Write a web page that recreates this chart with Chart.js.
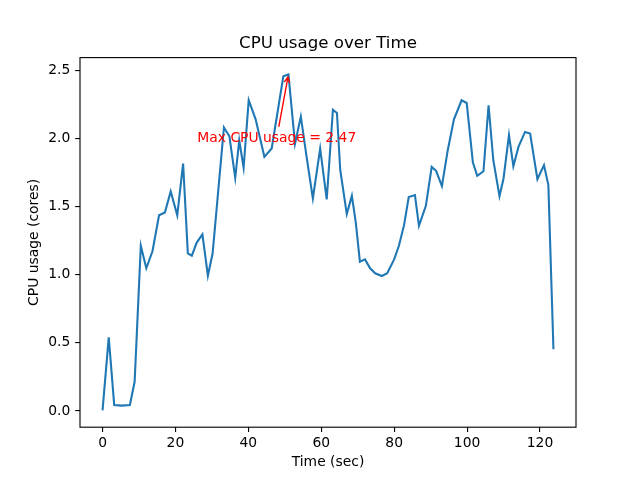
<!DOCTYPE html>
<html>
<head>
<meta charset="utf-8">
<title>CPU usage over Time</title>
<script src="https://cdn.jsdelivr.net/npm/chart.js@4.4.0/dist/chart.umd.min.js"></script>
<style>
  body { margin: 0; background: #fff; }
  canvas { display: block; }
</style>
</head>
<body>
<canvas id="cpuChart" width="640" height="480"></canvas>
<script>
// sample times (sec) and cpu usage (cores)
const timeSec = [
  0, 1.7, 3.2, 5.3, 7.5, 8.8, 10.5, 12.0, 13.7, 15.5, 17.1, 18.7, 20.5,
  22.1, 23.4, 24.5, 25.8, 27.4, 28.9, 30.2, 33.3, 34.8, 36.4, 37.5, 38.7,
  40.1, 42.0, 44.4, 46.4, 49.6, 51.0, 52.8, 54.4, 56.0, 57.7, 59.7, 61.5,
  63.2, 64.3, 65.2, 67.0, 68.4, 69.5, 70.6, 72.0, 73.4, 74.8, 76.6, 78.1,
  80.0, 81.3, 82.7, 84.0, 85.7, 86.8, 88.7, 90.3, 91.5, 93.1, 94.7, 96.4,
  98.5, 99.9, 101.6, 102.8, 104.5, 105.9, 107.2, 108.9, 110.0, 111.5, 112.7,
  114.1, 115.9, 117.3, 119.3, 121.1, 122.3, 123.7
];
const cpuCores = [
  0.0, 0.537, 0.04, 0.035, 0.04, 0.21, 1.21, 1.045, 1.17, 1.435, 1.455, 1.61, 1.435,
  1.815, 1.155, 1.137, 1.232, 1.294, 0.99, 1.155, 2.08, 2.015, 1.71, 1.985, 1.785,
  2.28, 2.14, 1.864, 1.925, 2.456, 2.47, 1.96, 2.16, 1.86, 1.558, 1.925, 1.551,
  2.21, 2.186, 1.77, 1.443, 1.577, 1.375, 1.093, 1.11, 1.045, 1.008, 0.988, 1.008,
  1.11, 1.21, 1.36, 1.568, 1.583, 1.357, 1.504, 1.79, 1.761, 1.649, 1.913, 2.14,
  2.28, 2.26, 1.822, 1.724, 1.758, 2.243, 1.839, 1.575, 1.705, 2.023, 1.795,
  1.937, 2.047, 2.035, 1.7, 1.803, 1.656, 0.45
];
const xTicks = [0, 20, 40, 60, 80, 100, 120];
const yTicks = [0.0, 0.5, 1.0, 1.5, 2.0, 2.5];

const FONT = 'DejaVu Sans';
const PT = 100 / 72;           // figure was made at 100 dpi
const TICK_SIZE = 10 * PT;
const TITLE_SIZE = 12 * PT;

// matplotlib style 5% margins
const tLo = Math.min(...timeSec), tHi = Math.max(...timeSec);
const cLo = Math.min(...cpuCores), cHi = Math.max(...cpuCores);
const xPad = (tHi - tLo) * 0.05, yPad = (cHi - cLo) * 0.05;

const peakIdx = cpuCores.indexOf(cHi);
const peakTime = timeSec[peakIdx];
const peakLabel = 'Max CPU usage = ' + cHi.toFixed(2);

const points = timeSec.map((t, i) => ({ x: t, y: cpuCores[i] }));

// axes frame, all four spines
const frame = {
  id: 'frame',
  afterDatasetsDraw(chart) {
    const a = chart.chartArea, ctx = chart.ctx;
    ctx.save();
    ctx.strokeStyle = '#000';
    ctx.lineWidth = 0.8 * PT;
    ctx.strokeRect(a.left, a.top, a.right - a.left, a.bottom - a.top);
    ctx.restore();
  }
};

// red text + arrow pointing at the peak
const peakNote = {
  id: 'peakNote',
  afterDatasetsDraw(chart) {
    const { ctx, scales: { x, y } } = chart;
    const px = x.getPixelForValue(peakTime), py = y.getPixelForValue(cHi);
    const tx = x.getPixelForValue(peakTime - 25), ty = y.getPixelForValue(cHi - 0.5);
    ctx.save();
    ctx.font = TICK_SIZE + 'px ' + FONT;
    ctx.fillStyle = 'red';
    ctx.textAlign = 'left';
    ctx.textBaseline = 'alphabetic';
    ctx.fillText(peakLabel, tx, ty);

    const w = ctx.measureText(peakLabel).width;
    const boxTop = ty - 0.928 * TICK_SIZE, boxBot = ty + 0.236 * TICK_SIZE;
    const cx = tx + w / 2, cy = (boxTop + boxBot) / 2;
    let dx = px - cx, dy = py - cy;
    const len = Math.hypot(dx, dy);
    dx /= len; dy /= len;
    const shrink = 2 * PT;
    // leave the text box through its top edge
    const k = (cy - boxTop) / -dy + shrink;
    const sx = cx + dx * k, sy = cy + dy * k;
    const ex = px - dx * shrink, ey = py - dy * shrink;

    ctx.strokeStyle = 'red';
    ctx.lineWidth = PT;
    ctx.beginPath();
    ctx.moveTo(sx, sy);
    ctx.lineTo(ex, ey);
    const hl = 0.4 * TICK_SIZE, hw = 0.2 * TICK_SIZE;
    ctx.moveTo(ex - dx * hl - dy * hw, ey - dy * hl + dx * hw);
    ctx.lineTo(ex, ey);
    ctx.lineTo(ex - dx * hl + dy * hw, ey - dy * hl - dx * hw);
    ctx.stroke();
    ctx.restore();
  }
};

new Chart(document.getElementById('cpuChart'), {
  type: 'line',
  data: {
    datasets: [{
      data: points,
      borderColor: '#1f77b4',
      borderWidth: 1.5 * PT,
      pointRadius: 0,
      tension: 0,
      fill: false
    }]
  },
  options: {
    responsive: false,
    animation: false,
    events: [],
    layout: { padding: { left: 0, right: 64, top: 0, bottom: 0 } },
    plugins: {
      legend: { display: false },
      tooltip: { enabled: false },
      title: {
        display: true,
        fullSize: false,
        text: 'CPU usage over Time',
        color: '#000',
        font: { family: FONT, size: TITLE_SIZE, weight: 'normal' },
        padding: { top: 33.5, bottom: 4.1 }
      }
    },
    scales: {
      x: {
        type: 'linear',
        min: tLo - xPad,
        max: tHi + xPad,
        afterBuildTicks: s => { s.ticks = xTicks.map(v => ({ value: v })); },
        afterFit: s => { s.height = 52.8; },
        border: { display: false },
        grid: { drawOnChartArea: false, drawTicks: true, tickLength: 3.5 * PT, color: '#000', lineWidth: 0.8 * PT },
        ticks: {
          color: '#000',
          padding: 3.1,
          maxRotation: 0,
          font: { family: FONT, size: TICK_SIZE },
          callback: v => String(v)
        },
        title: {
          display: true,
          text: 'Time (sec)',
          color: '#000',
          font: { family: FONT, size: TICK_SIZE },
          padding: { top: 0, bottom: 9.2 }
        }
      },
      y: {
        type: 'linear',
        min: cLo - yPad,
        max: cHi + yPad,
        afterBuildTicks: s => { s.ticks = yTicks.map(v => ({ value: v })); },
        afterFit: s => { s.width = 80; },
        border: { display: false },
        grid: { drawOnChartArea: false, drawTicks: true, tickLength: 3.5 * PT, color: '#000', lineWidth: 0.8 * PT },
        ticks: {
          color: '#000',
          padding: 3.5 * PT,
          labelOffset: 0.5,
          font: { family: FONT, size: TICK_SIZE },
          callback: v => v.toFixed(1)
        },
        title: {
          display: true,
          text: 'CPU usage (cores)',
          color: '#000',
          font: { family: FONT, size: TICK_SIZE },
          padding: { top: 26.3, bottom: 0 }
        }
      }
    }
  },
  plugins: [frame, peakNote]
});
</script>
</body>
</html>
